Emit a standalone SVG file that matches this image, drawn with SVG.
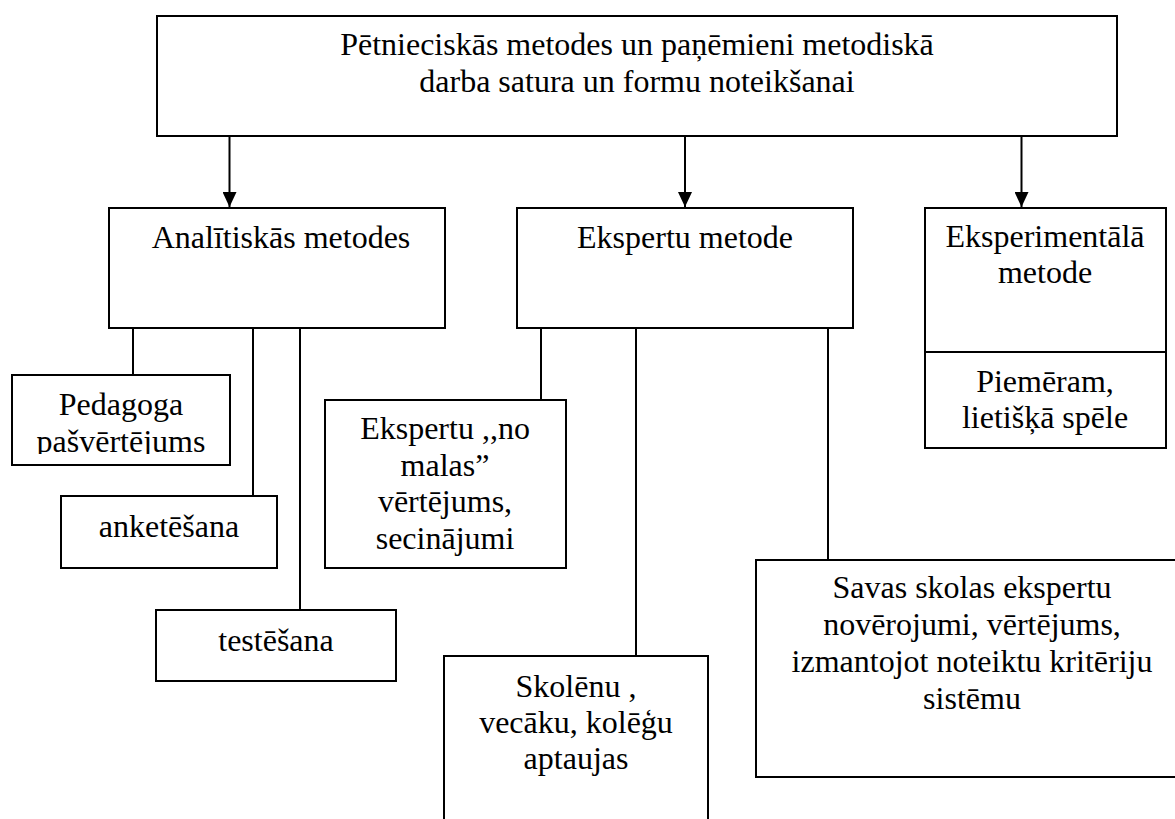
<svg xmlns="http://www.w3.org/2000/svg" width="1175" height="819" viewBox="0 0 1175 819" font-family="'Liberation Serif', 'DejaVu Serif', serif">
<style>
.box{fill:#fff;stroke:#000;stroke-width:2}
.ln{fill:none;stroke:#000;stroke-width:2}
text{font-family:'Liberation Serif','DejaVu Serif',serif;font-size:32px;fill:#000;text-anchor:middle}
</style>
<defs>
<marker id="arr" viewBox="0 0 15 14" refX="15" refY="7" markerWidth="15" markerHeight="14" markerUnits="userSpaceOnUse" orient="auto"><path d="M0,0 L15,7 L0,14 z" fill="#000"/></marker>
<clipPath id="clipPed"><rect x="12" y="375" width="218" height="79"/></clipPath>
</defs>
<rect width="1175" height="819" fill="#fff"/>
<g id="connectors">
<line class="ln" x1="229.5" y1="136" x2="229.5" y2="207" marker-end="url(#arr)"/>
<line class="ln" x1="685" y1="136" x2="685" y2="207" marker-end="url(#arr)"/>
<line class="ln" x1="1021.5" y1="136" x2="1021.5" y2="207" marker-end="url(#arr)"/>
<line class="ln" x1="133" y1="328" x2="133" y2="375"/>
<line class="ln" x1="253" y1="328" x2="253" y2="496"/>
<line class="ln" x1="300" y1="328" x2="300" y2="610"/>
<line class="ln" x1="541" y1="328" x2="541" y2="400"/>
<line class="ln" x1="636" y1="328" x2="636" y2="656"/>
<line class="ln" x1="828" y1="328" x2="828" y2="560"/>
</g>
<g id="top">
<rect class="box" x="157" y="16" width="960" height="120"/>
<text x="637" y="55">Pētnieciskās metodes un paņēmieni metodiskā</text>
<text x="637" y="92">darba satura un formu noteikšanai</text>
</g>
<g id="analitiskas">
<rect class="box" x="109" y="208" width="336" height="120"/>
<text x="281" y="248">Analītiskās metodes</text>
</g>
<g id="ekspertu">
<rect class="box" x="517" y="208" width="336" height="120"/>
<text x="685" y="248">Ekspertu metode</text>
</g>
<g id="eksperimentala">
<rect class="box" x="925" y="208" width="241" height="240"/>
<line class="ln" x1="925" y1="352" x2="1166" y2="352"/>
<text x="1045" y="247">Eksperimentālā</text>
<text x="1045" y="283">metode</text>
<text x="1045" y="392">Piemēram,</text>
<text x="1045" y="428">lietišķā spēle</text>
</g>
<g id="pedagoga">
<rect class="box" x="12" y="375" width="218" height="90"/>
<g clip-path="url(#clipPed)">
<text x="121" y="415">Pedagoga</text>
<text x="121" y="451.5">pašvērtējums</text>
</g>
</g>
<g id="anketesana">
<rect class="box" x="61" y="496" width="216" height="72"/>
<text x="169" y="537">anketēšana</text>
</g>
<g id="testesana">
<rect class="box" x="156" y="610" width="240" height="71"/>
<text x="276" y="651">testēšana</text>
</g>
<g id="no-malas">
<rect class="box" x="325" y="400" width="241" height="168"/>
<text x="445" y="439">Ekspertu ,,no</text>
<text x="445" y="475.5">malas”</text>
<text x="445" y="512">vērtējums,</text>
<text x="445" y="549">secinājumi</text>
</g>
<g id="skolenu">
<rect class="box" x="444" y="656" width="264" height="200"/>
<text x="576" y="697">Skolēnu ,</text>
<text x="576" y="733">vecāku, kolēģu</text>
<text x="576" y="769">aptaujas</text>
</g>
<g id="savas">
<rect class="box" x="756" y="560" width="440" height="217"/>
<text x="972" y="598">Savas skolas ekspertu</text>
<text x="972" y="635">novērojumi, vērtējums,</text>
<text x="972" y="672">izmantojot noteiktu kritēriju</text>
<text x="972" y="709">sistēmu</text>
</g>
</svg>
